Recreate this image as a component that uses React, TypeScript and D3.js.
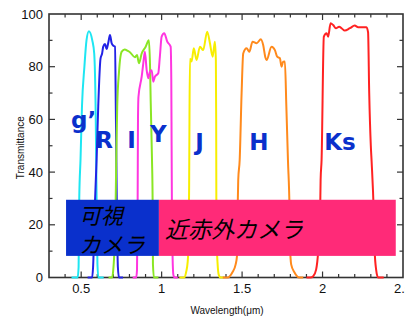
import React from "react"
import * as d3 from "d3"

const W = 405
const H = 320

// filter transmission curves: [wavelength (um), transmittance (%)]
const gBand = [[0.44,0],[0.478,0],[0.484,4],[0.488,30],[0.496,45],[0.505,65],[0.52,80],[0.533,90],[0.548,93.5],[0.569,90],[0.581,85],[0.59,63],[0.595,35],[0.601,5],[0.607,0],[0.64,0]]
const rBand = [[0.54,0],[0.568,0],[0.574,4],[0.586,29],[0.596,45],[0.606,65],[0.62,83],[0.63,85],[0.637,87.6],[0.648,88.6],[0.658,86.7],[0.668,89],[0.679,92],[0.689,89],[0.699,88],[0.71,87.6],[0.716,60],[0.722,25],[0.728,4],[0.735,0],[0.76,0]]
const iBand = [[0.67,0],[0.692,0],[0.698,2],[0.712,20],[0.718,45],[0.724,65],[0.735,78],[0.752,85.7],[0.77,86.5],[0.79,86],[0.803,85.5],[0.834,83.6],[0.847,84.4],[0.859,81.3],[0.876,85],[0.9,87.5],[0.921,90],[0.928,80],[0.932,67],[0.94,45],[0.944,29],[0.946,5],[0.952,0],[0.98,0]]
const yBand = [[0.82,0],[0.842,0],[0.847,3],[0.851,30],[0.853,60],[0.856,68.6],[0.876,76.2],[0.886,81.3],[0.896,85.7],[0.907,78.7],[0.917,75.6],[0.927,78.1],[0.938,78.7],[0.948,74.3],[0.958,76.2],[0.979,77.5],[0.989,83.8],[1.0,91.4],[1.016,92.7],[1.035,89.5],[1.056,87.6],[1.06,75],[1.062,50],[1.064,25],[1.068,8],[1.073,1],[1.08,0],[1.1,0]]
const jBand = [[1.11,0],[1.14,0],[1.152,2],[1.162,6],[1.168,15],[1.171,35],[1.173,60],[1.176,83],[1.186,82],[1.2,87],[1.217,82.5],[1.238,87.6],[1.258,86.3],[1.283,93.3],[1.3,89],[1.317,83.8],[1.331,89.5],[1.337,82.5],[1.339,60],[1.34,30],[1.343,12],[1.348,5],[1.355,1],[1.365,0],[1.39,0]]
const hBand = [[1.38,0],[1.41,0],[1.44,2],[1.46,5],[1.468,8],[1.472,25],[1.476,37],[1.485,44.6],[1.497,70],[1.507,85],[1.528,87],[1.545,85.7],[1.565,89.5],[1.59,88.9],[1.617,90.4],[1.631,88.2],[1.645,83.5],[1.652,82.5],[1.683,87.6],[1.704,86.3],[1.718,83.8],[1.735,83.2],[1.745,80],[1.755,81.9],[1.766,82],[1.775,65],[1.785,44.6],[1.795,25],[1.798,12],[1.805,5],[1.825,2],[1.855,0],[1.88,0]]
const ksBand = [[1.9,0],[1.925,0],[1.942,0.5],[1.96,3],[1.973,10],[1.985,25],[1.988,37],[1.994,44.6],[2.008,91.4],[2.025,92.7],[2.035,91.4],[2.05,96.5],[2.066,95.8],[2.083,94.6],[2.103,95.2],[2.12,94.5],[2.138,93.7],[2.17,94.6],[2.2,95.6],[2.221,95],[2.273,95],[2.283,93],[2.29,70],[2.3,50],[2.305,44],[2.318,25],[2.324,10],[2.333,3],[2.345,0],[2.38,0]]

const filterCurves = [gBand, rBand, iBand, yBand, jBand, hBand, ksBand]
const filterNames = ["g\u2019", "R", "I", "Y", "J", "H", "Ks"]
const filterColors = ["#1ee6f2", "#2222e6", "#8ae624", "#ff36e0", "#f7ee00", "#ff8a1c", "#ff2222"]
const labelWave = [0.437, 0.588, 0.787, 0.928, 1.209, 1.544, 2.01]
const labelTrans = [56.7, 49.1, 49.1, 51.4, 48.4, 48.4, 48.4]

const cameraLines = [["可視", "カメラ"], ["近赤外カメラ"]]
const cameraFrom = [0.406, 0.983]
const cameraTo = [0.983, 2.455]
const cameraColors = ["#0a30cc", "#ff2a78"]
const cameraLow = 8.2
const cameraHigh = 29.5

const xMajor = [0.5, 1, 1.5, 2, 2.5]
const xMajorLabels = ["0.5", "1", "1.5", "2", "2.5"]
const yMajor = [0, 20, 40, 60, 80, 100]

export default function App() {
  const x = d3.scaleLinear().domain([0.3, 2.5]).range([49, 403])
  const y = d3.scaleLinear().domain([0, 100]).range([277.5, 14])
  const line = d3
    .line<number[]>()
    .x(d => x(d[0]))
    .y(d => y(d[1]))
    .curve(d3.curveMonotoneX)

  const xMinor = d3.range(4, 25).map(i => i / 10)
  const yMinor = d3.range(1, 10).map(i => i * 10)
  const isMajorX = (v: number) => Math.abs(v * 2 - Math.round(v * 2)) < 1e-6
  const [x0, x1] = x.range()
  const [y0, y1] = y.range()
  const axisColor = "#333"

  return (
    <svg width={W} height={H} style={{ position: "absolute", left: 0, top: 0, background: "#fff" }}>
      {/* ticks, inward on all four sides */}
      <g stroke={axisColor} strokeWidth={1.2}>
        {xMinor.map(v => {
          const len = isMajorX(v) ? 6 : 3.5
          return (
            <g key={"xt" + v}>
              <line x1={x(v)} x2={x(v)} y1={y0} y2={y0 - len} />
              <line x1={x(v)} x2={x(v)} y1={y1} y2={y1 + len} />
            </g>
          )
        })}
        {yMinor.map(v => {
          const len = v % 20 === 0 ? 6 : 3.5
          return (
            <g key={"yt" + v}>
              <line x1={x0} x2={x0 + len} y1={y(v)} y2={y(v)} />
              <line x1={x1} x2={x1 - len} y1={y(v)} y2={y(v)} />
            </g>
          )
        })}
      </g>
      <rect x={x0} y={y1} width={x1 - x0} height={y0 - y1} fill="none" stroke={axisColor} strokeWidth={1.6} />

      {/* filter curves */}
      <g fill="none" strokeWidth={2} strokeLinejoin="round">
        {filterCurves.map((c, i) => (
          <path key={filterNames[i]} d={line(c) || ""} stroke={filterColors[i]} />
        ))}
      </g>

      {/* tick labels */}
      <g fontFamily="Liberation Sans, Arial, sans-serif" fontSize={13} fill="#111">
        {xMajor.map((v, i) => (
          <text key={"xl" + v} x={x(v)} y={293} textAnchor="middle">{xMajorLabels[i]}</text>
        ))}
        {yMajor.map(v => (
          <text key={"yl" + v} x={43} y={y(v)} dy="0.36em" textAnchor="end">{v}</text>
        ))}
      </g>
      <text x={227} y={314} textAnchor="middle" fontFamily="Liberation Sans, Arial, sans-serif" fontSize={10} fill="#111">
        Wavelength(μm)
      </text>
      <text
        transform={`translate(24,${(y0 + y1) / 2 + 2}) rotate(-90)`}
        textAnchor="middle"
        fontFamily="Liberation Sans, Arial, sans-serif"
        fontSize={10}
        fill="#111"
      >
        Transmittance
      </text>

      {/* filter names */}
      <g fontFamily="DejaVu Sans, sans-serif" fontWeight="bold" fontSize={23} fill="#0a30cc">
        {filterNames.map((n, i) => (
          <text key={"fl" + n} x={x(labelWave[i])} y={y(labelTrans[i])}>{n}</text>
        ))}
      </g>

      {/* camera coverage boxes */}
      {cameraLines.map((lines, i) => (
        <rect
          key={"cb" + i}
          x={x(cameraFrom[i])}
          y={y(cameraHigh)}
          width={x(cameraTo[i]) - x(cameraFrom[i])}
          height={y(cameraLow) - y(cameraHigh)}
          fill={cameraColors[i]}
        />
      ))}
      <g fontFamily="Noto Sans CJK JP, sans-serif" fontStyle="italic" fill="#000">
        <text fontSize={22}>
          <tspan x={x(cameraFrom[0]) + 13} y={224}>{cameraLines[0][0]}</tspan>
          <tspan x={x(cameraFrom[0]) + 13} y={252.5}>{cameraLines[0][1]}</tspan>
        </text>
        <text x={x(cameraFrom[1]) + 6} y={238} fontSize={23}>{cameraLines[1][0]}</text>
      </g>
    </svg>
  )
}
